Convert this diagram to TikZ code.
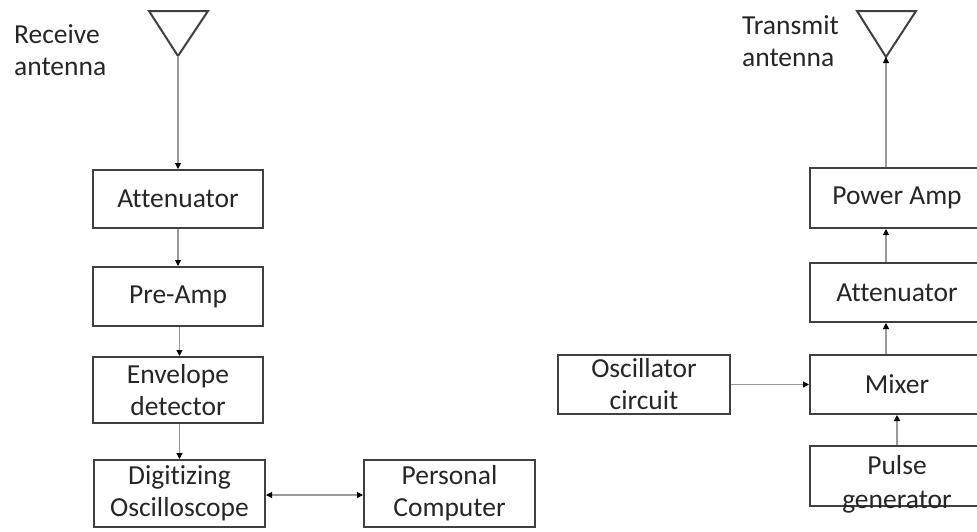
\documentclass[tikz,border=0pt]{standalone}
\usepackage{fontspec}
\setmainfont[RawFeature={-liga}]{Carlito}
\usetikzlibrary{arrows.meta}
\definecolor{txtcol}{HTML}{262626}
\definecolor{boxcol}{HTML}{404040}
\definecolor{wirecol}{HTML}{9A9A9A}
\tikzset{
  blk/.style={draw=boxcol, line width=2pt, fill=white, minimum width=#1, inner sep=0pt,
    font=\fontsize{27.5}{32}\selectfont, text=txtcol, align=center},
  blk/.default=170pt,
  lbl/.style={inner sep=0pt, anchor=north west, align=left, font=\fontsize{27.5}{32}\selectfont, text=txtcol},
  wire/.style={draw=wirecol, line width=1.1pt, -{Triangle[length=6pt,width=6pt,color=black]}},
  wire2/.style={draw=wirecol, line width=1.1pt, {Triangle[length=6pt,width=6pt,color=black]}-{Triangle[length=6pt,width=6pt,color=black]}},
  ant/.style={draw=boxcol, line width=2pt, line join=miter}
}
\begin{document}
\begin{tikzpicture}[x=1pt,y=-1pt]
\useasboundingbox (0,0) rectangle (977,531);
\clip (0,0) rectangle (977,531);
\fill[white] (0,0) rectangle (977,531);

% Receive chain
\draw[ant] (149,11) -- (208,11) -- (178,56) -- cycle;
\coordinate (rxant) at (178,56);
\node[lbl] (rxlbl) at (14,24.6) {Receive\\antenna};

\node[blk, minimum height=58pt] (rxatt) at (178,199) {Attenuator};
\node[blk, minimum height=59pt] (preamp) at (178,296.5) {Pre-Amp};
\node[blk, minimum height=66pt] (env) at (178,390) {Envelope\\detector};
\node[blk=171pt, minimum height=67pt] (dig) at (179.5,493.5) {Digitizing\\Oscilloscope};
\node[blk=171pt, minimum height=67pt] (pc) at (449.5,493.5) {Personal\\Computer};

\draw[wire] (rxant) -- (rxatt.north);
\draw[wire] (rxatt.south) -- (preamp.north);
\draw[wire] ([xshift=1.5pt]preamp.south) -- ([xshift=1.5pt]env.north);
\draw[wire] ([xshift=1.5pt]env.south) -- ([xshift=0pt]dig.north);
\draw[wire2] ([yshift=-1.5pt]dig.east) -- ([yshift=-1.5pt]pc.west);

% Transmit chain
\draw[ant] (857,11) -- (916,11) -- (886,57) -- cycle;
\coordinate (txant) at (886,57);
\node[lbl] (txlbl) at (742,15) {Transmit\\antenna};

\node[blk=174pt, minimum height=60pt] (pa) at (897,198) {Power Amp};
\node[blk=174pt, minimum height=59pt] (txatt) at (897,292.5) {Attenuator};
\node[blk=174pt, minimum height=59pt] (mix) at (897,384.5) {Mixer};
\node[blk=174pt, minimum height=60pt] (pulse) at (897,476) {};
\node[inner sep=0pt, font=\fontsize{27.5}{34}\selectfont, text=txtcol, align=center] (pulsetxt) at (897,484) {Pulse\\generator};
\node[blk=172pt, minimum height=59pt] (osc) at (644,384.5) {Oscillator\\circuit};

\draw[wire] (pa.north -| txant) -- (txant);
\draw[wire] (txatt.north -| txant) -- (pa.south -| txant);
\draw[wire] (mix.north -| txant) -- (txatt.south -| txant);
\draw[wire] (pulse.north) -- (mix.south);
\draw[wire] (osc.east) -- (mix.west);
\end{tikzpicture}
\end{document}
